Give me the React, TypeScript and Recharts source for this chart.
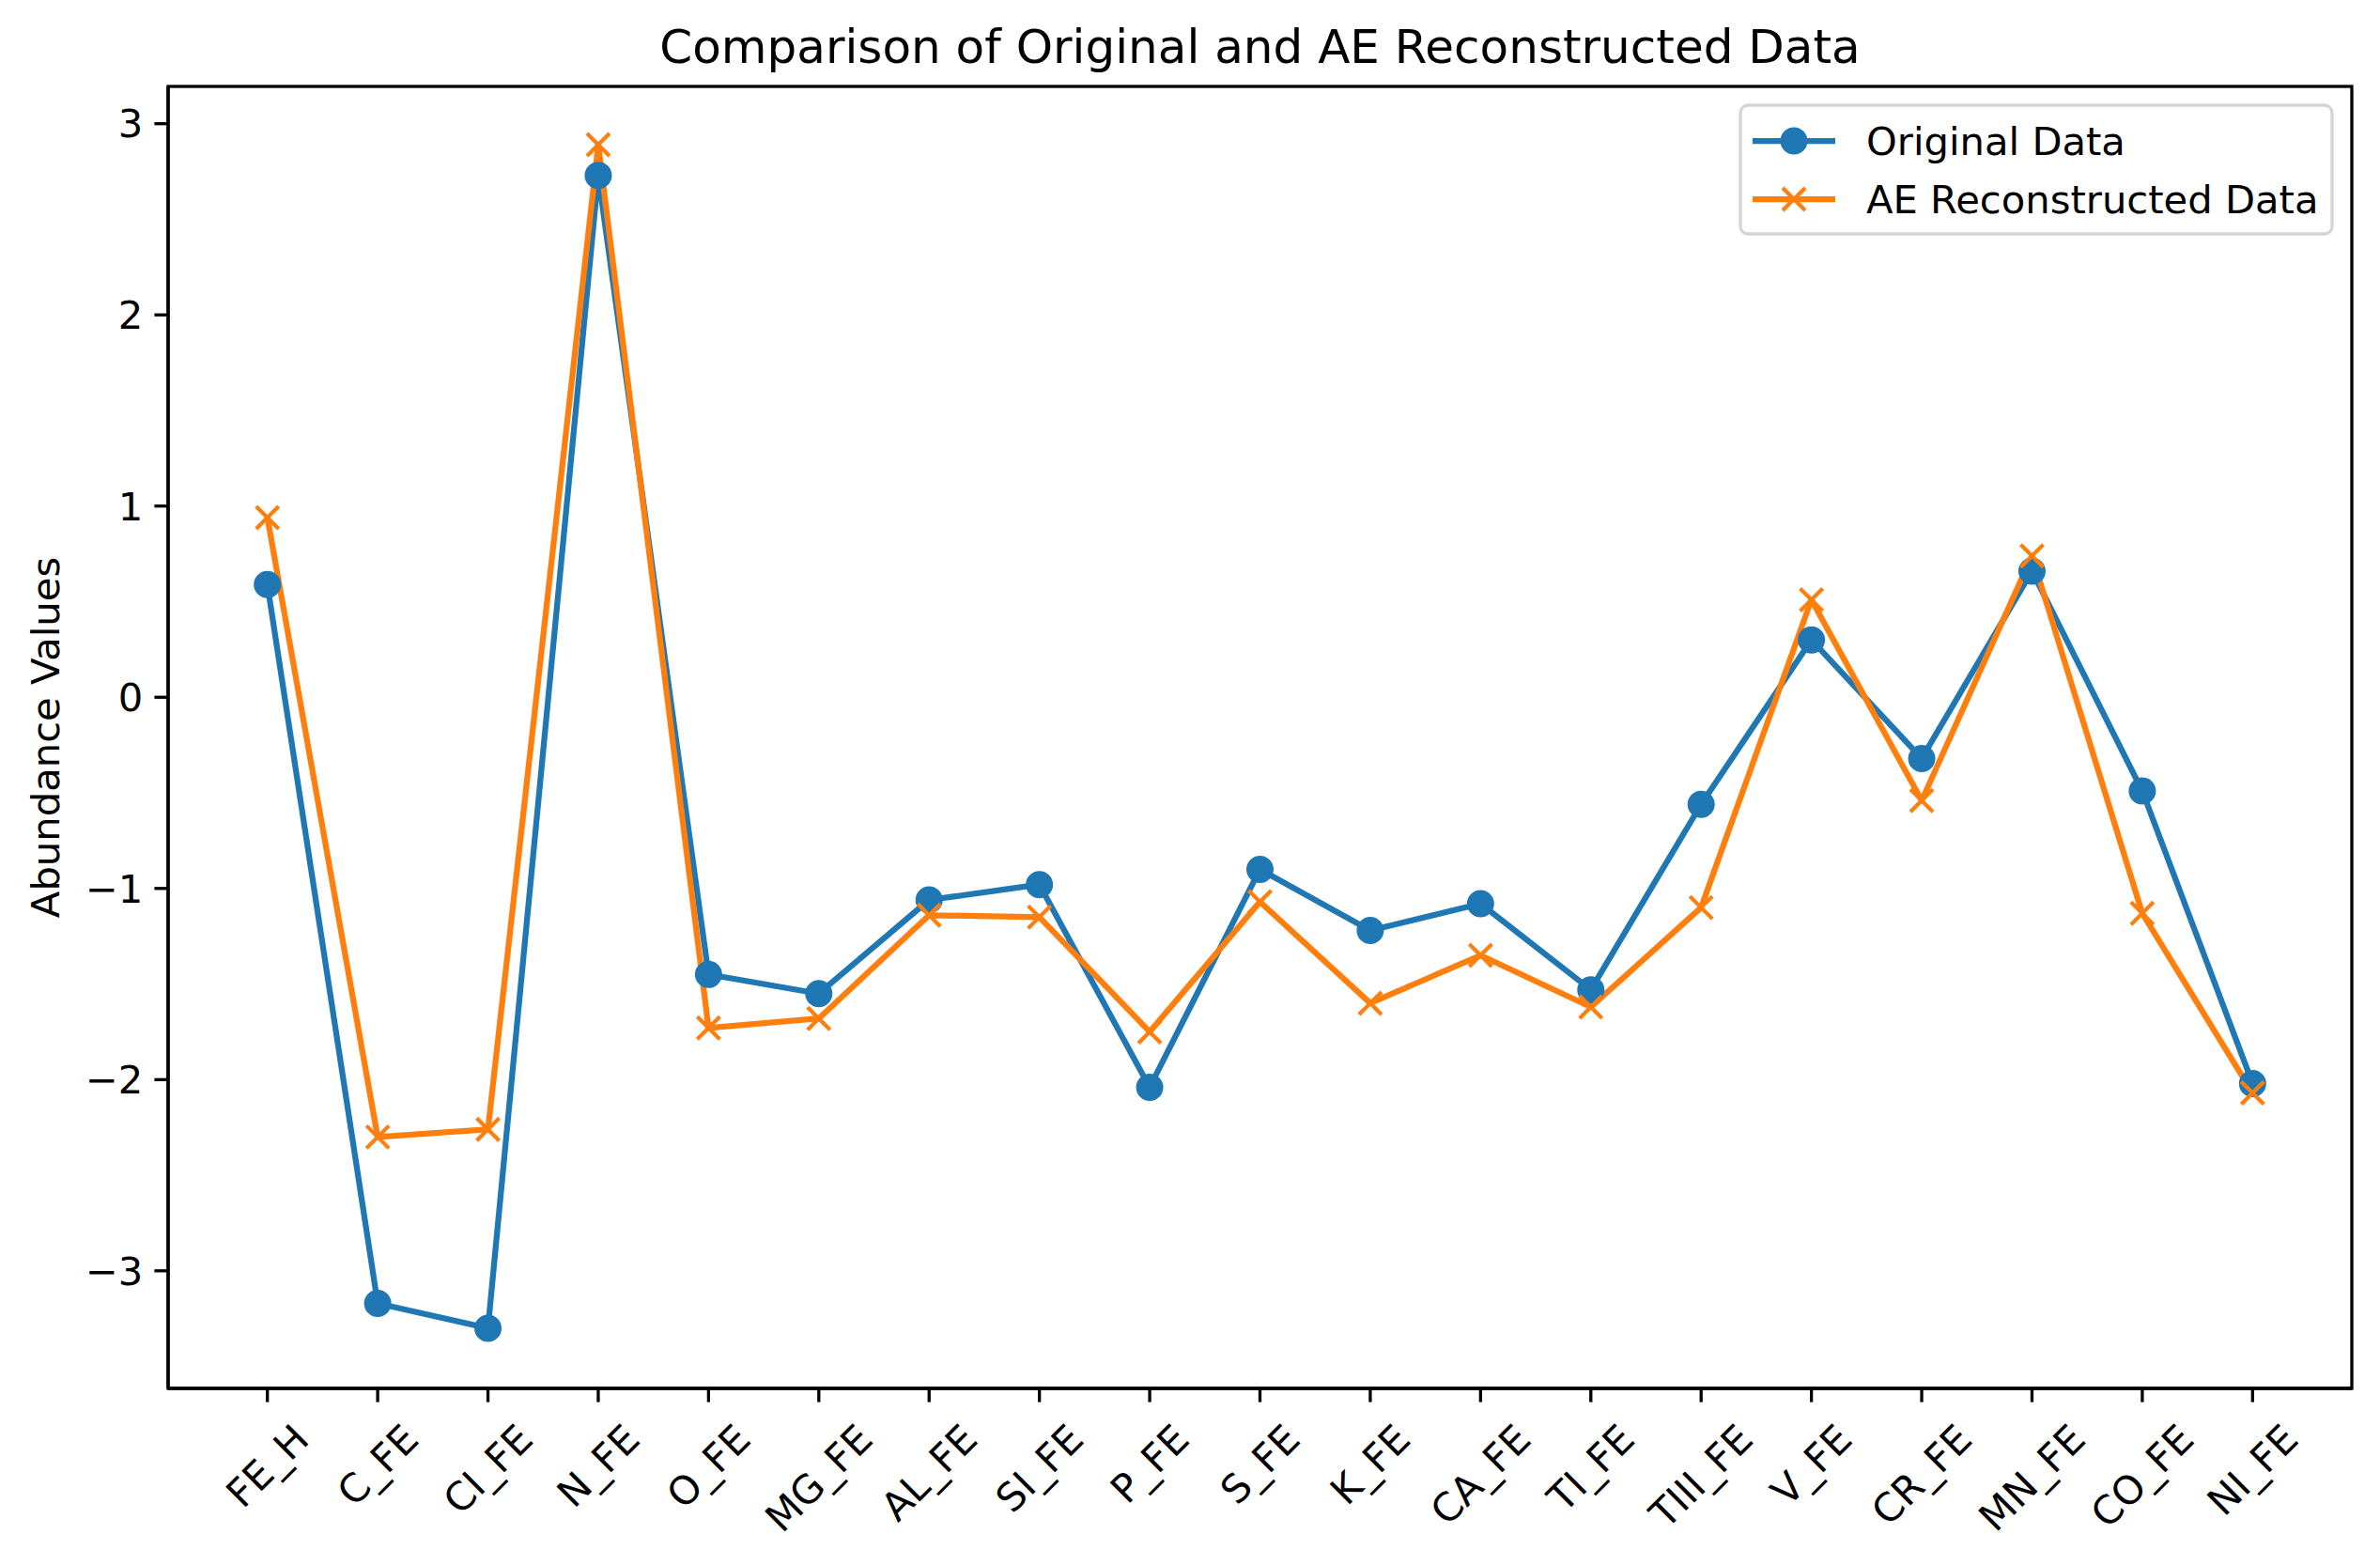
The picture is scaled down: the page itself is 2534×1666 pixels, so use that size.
import { LineChart, Line, XAxis, YAxis } from "recharts";

const categories = ["FE_H", "C_FE", "CI_FE", "N_FE", "O_FE", "MG_FE", "AL_FE", "SI_FE", "P_FE", "S_FE", "K_FE", "CA_FE", "TI_FE", "TIII_FE", "V_FE", "CR_FE", "MN_FE", "CO_FE", "NI_FE"];
const originalValues = [0.59, -3.17, -3.30, 2.73, -1.45, -1.55, -1.06, -0.98, -2.04, -0.90, -1.22, -1.08, -1.53, -0.56, 0.30, -0.32, 0.66, -0.49, -2.02];
const reconstructedValues = [0.94, -2.30, -2.26, 2.89, -1.73, -1.68, -1.14, -1.15, -1.75, -1.07, -1.60, -1.35, -1.62, -1.10, 0.51, -0.54, 0.74, -1.13, -2.07];
const yTicks = [-3, -2, -1, 0, 1, 2, 3];

const BLUE = "#1f77b4";
const ORANGE = "#ff7f0e";
const FONT = "DejaVu Sans";
const FS = 41.7;

// plot box (matches chart margins below)
const W = 2534;
const H = 1666;
const M = { top: 92, right: 30, left: 0, bottom: 0 };
const Y_W = 179;
const X_H = 188;

const data = categories.map((name, i) => ({ i, name, orig: originalValues[i], ae: reconstructedValues[i] }));
const xIdx = categories.map((_, i) => i);

const fmtY = (v: number) => (v < 0 ? `\u2212${-v}` : `${v}`);

let ctx: CanvasRenderingContext2D | null = null;
const measure = (s: string) => {
  if (!ctx) {
    ctx = document.createElement("canvas").getContext("2d");
  }
  if (!ctx) return s.length * FS * 0.65;
  ctx.font = `${FS}px "${FONT}"`;
  return ctx.measureText(s).width;
};

const XTick = ({ x, y, payload }: any) => {
  const label = categories[payload.value] ?? "";
  const w = measure(label);
  const d = (w + FS * 1.17) * Math.SQRT1_2;
  const cy = y + d / 2;
  return (
    <text x={x} y={cy} textAnchor="middle" dominantBaseline="central" fontFamily={FONT} fontSize={FS} fill="#000" transform={`rotate(-45, ${x}, ${cy})`}>
      {label}
    </text>
  );
};

const Cross = ({ cx, cy, size = 12, sw = 4.2 }: any) => (
  <g>
    <line x1={cx - size} y1={cy - size} x2={cx + size} y2={cy + size} stroke={ORANGE} strokeWidth={sw} />
    <line x1={cx - size} y1={cy + size} x2={cx + size} y2={cy - size} stroke={ORANGE} strokeWidth={sw} />
  </g>
);

const renderCross = (props: any) => <Cross key={`x-${props.index}`} cx={props.cx} cy={props.cy} />;

export default function App() {
  const axisLine = { stroke: "#000", strokeWidth: 3.3 };
  const plotL = M.left + Y_W;
  const plotT = M.top;
  const plotR = W - M.right;
  const plotB = H - M.bottom - X_H;
  return (
    <div style={{ position: "absolute", left: 0, top: 0, width: W, height: H, background: "#fff" }}>
      <LineChart width={W} height={H} data={data} margin={M}>
        <XAxis
          dataKey="i"
          type="number"
          domain={[-0.9, 18.9]}
          ticks={xIdx}
          interval={0}
          allowDataOverflow
          height={X_H}
          tickSize={14.6}
          tickMargin={14.6}
          axisLine={axisLine}
          tickLine={axisLine}
          tick={<XTick />}
        />
        <YAxis
          type="number"
          domain={[-3.615, 3.195]}
          ticks={yTicks}
          allowDataOverflow
          width={Y_W}
          tickSize={14.6}
          tickMargin={12}
          axisLine={axisLine}
          tickLine={axisLine}
          tickFormatter={fmtY}
          tick={{ fill: "#000", fontSize: FS, fontFamily: FONT }}
        />
        <Line
          dataKey="orig"
          stroke={BLUE}
          strokeWidth={6.25}
          strokeLinejoin="round"
          dot={{ r: 12.5, fill: BLUE, stroke: BLUE, strokeWidth: 4 }}
          activeDot={false}
          isAnimationActive={false}
        />
        <Line
          dataKey="ae"
          stroke={ORANGE}
          strokeWidth={6.25}
          strokeLinejoin="round"
          dot={renderCross}
          activeDot={false}
          isAnimationActive={false}
        />
      </LineChart>
      <svg width={W} height={H} style={{ position: "absolute", left: 0, top: 0, pointerEvents: "none" }}>
        <rect x={plotL} y={plotT} width={plotR - plotL} height={plotB - plotT} fill="none" stroke="#000" strokeWidth={3.3} />
        <text x={(plotL + plotR) / 2} y={67} textAnchor="middle" fontFamily={FONT} fontSize={50} fill="#000">
          Comparison of Original and AE Reconstructed Data
        </text>
        <text x={63} y={(plotT + plotB) / 2} textAnchor="middle" fontFamily={FONT} fontSize={FS} fill="#000" transform={`rotate(-90, 63, ${(plotT + plotB) / 2})`}>
          Abundance Values
        </text>
        <rect x={1853} y={112} width={630} height={137} rx={8} fill="#fff" fillOpacity={0.8} stroke="#d4d4d4" strokeWidth={3.3} />
        <line x1={1866} y1={150} x2={1954} y2={150} stroke={BLUE} strokeWidth={6.25} />
        <circle cx={1910} cy={150} r={12.5} fill={BLUE} stroke={BLUE} strokeWidth={4} />
        <text x={1987} y={165} fontFamily={FONT} fontSize={FS} fill="#000">Original Data</text>
        <line x1={1866} y1={212} x2={1954} y2={212} stroke={ORANGE} strokeWidth={6.25} />
        <Cross cx={1910} cy={212} />
        <text x={1987} y={227} fontFamily={FONT} fontSize={FS} fill="#000">AE Reconstructed Data</text>
      </svg>
    </div>
  );
}
